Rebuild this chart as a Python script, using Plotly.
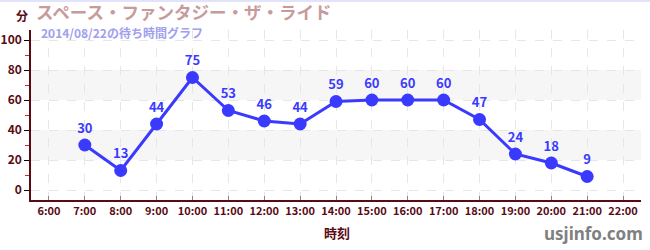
import plotly.graph_objects as go

hours = [7, 8, 9, 10, 11, 12, 13, 14, 15, 16, 17, 18, 19, 20, 21]
waits = [30, 13, 44, 75, 53, 46, 44, 59, 60, 60, 60, 47, 24, 18, 9]
tick_hours = list(range(6, 23))
tick_labels = [f"{h}:00" for h in tick_hours]
title = "スペース・ファンタジー・ザ・ライド"
subtitle = "2014/08/22の待ち時間グラフ"

W, H = 650, 250
ML, MR, MT, MB = 31, 9, 30, 50
PW, PH = W - ML - MR, H - MT - MB

def px(x):
    return (x - ML) / PW

def py(y):
    return (H - MB - y) / PH

DARK = "#5a0a14"
FONT = "Noto Sans CJK JP"

fig = go.Figure()
fig.add_trace(go.Scatter(
    x=hours, y=waits, mode="lines+markers+text",
    text=[str(v) for v in waits], textposition="top center",
    textfont=dict(family=FONT, size=13, color="#3a3aff", weight="bold"),
    line=dict(color="#3a3aff", width=3),
    marker=dict(color="#3a3aff", size=13),
    cliponaxis=False, hoverinfo="skip",
))

shapes = []
for lo, hi in [(20, 40), (60, 80)]:
    shapes.append(dict(type="rect", xref="paper", yref="y", x0=0, x1=1, y0=lo, y1=hi,
                       fillcolor="#f6f6f6", line=dict(width=0), layer="below"))
shapes.append(dict(type="line", xref="paper", yref="paper", x0=px(0), x1=px(W),
                   y0=py(1), y1=py(1), line=dict(color="#e2e2fa", width=2)))

annotations = [
    dict(text=title, x=px(34), y=py(11.5), xref="paper", yref="paper", xanchor="left", yanchor="middle",
         showarrow=False, font=dict(family=FONT, size=17.5, color="#c79b9b", weight="bold")),
    dict(text=subtitle, x=px(39), y=py(32.5), xref="paper", yref="paper", xanchor="left", yanchor="middle",
         showarrow=False, font=dict(family=FONT, size=12, color="#a0a0ee", weight="bold")),
    dict(text="分", x=px(22), y=py(15), xref="paper", yref="paper", xanchor="center", yanchor="middle",
         showarrow=False, font=dict(family=FONT, size=12, color=DARK, weight="bold")),
    dict(text="時刻", x=px(337), y=py(232), xref="paper", yref="paper", xanchor="center", yanchor="middle",
         showarrow=False, font=dict(family=FONT, size=13, color=DARK, weight="bold")),
    dict(text="usjinfo.com", x=px(645), y=py(233), xref="paper", yref="paper", xanchor="right", yanchor="middle",
         showarrow=False, font=dict(family="Noto Sans", size=17, color="#808080", weight="bold")),
]

fig.update_layout(
    width=W, height=H, margin=dict(l=ML, r=MR, t=MT, b=MB, autoexpand=False),
    paper_bgcolor="white", plot_bgcolor="white", showlegend=False,
    shapes=shapes, annotations=annotations,
    xaxis=dict(range=[5.5, 22.5], tickvals=tick_hours, ticktext=tick_labels,
               automargin=False,
               ticks="inside", ticklen=4, tickcolor="#888888", tickwidth=1,
               showline=True, linecolor=DARK, linewidth=1.5,
               showgrid=True, gridcolor="#e6e6e6", griddash="dash", gridwidth=1,
               zeroline=False,
               tickfont=dict(family=FONT, size=11, color=DARK, weight="bold")),
    yaxis=dict(range=[-6.67, 106.67], tickvals=[0, 20, 40, 60, 80, 100],
               automargin=False,
               ticks="outside", ticklen=5, tickcolor="#000000", tickwidth=1,
               showline=True, linecolor=DARK, linewidth=1.5,
               showgrid=True, gridcolor="#e6e6e6", griddash="dash", gridwidth=1,
               zeroline=False,
               minor=dict(tickvals=[10, 30, 50, 70, 90], ticks="outside", ticklen=4,
                          tickcolor="#e02020", showgrid=False),
               tickfont=dict(family=FONT, size=12, color=DARK, weight="bold")),
)

fig.write_html("out.html")
